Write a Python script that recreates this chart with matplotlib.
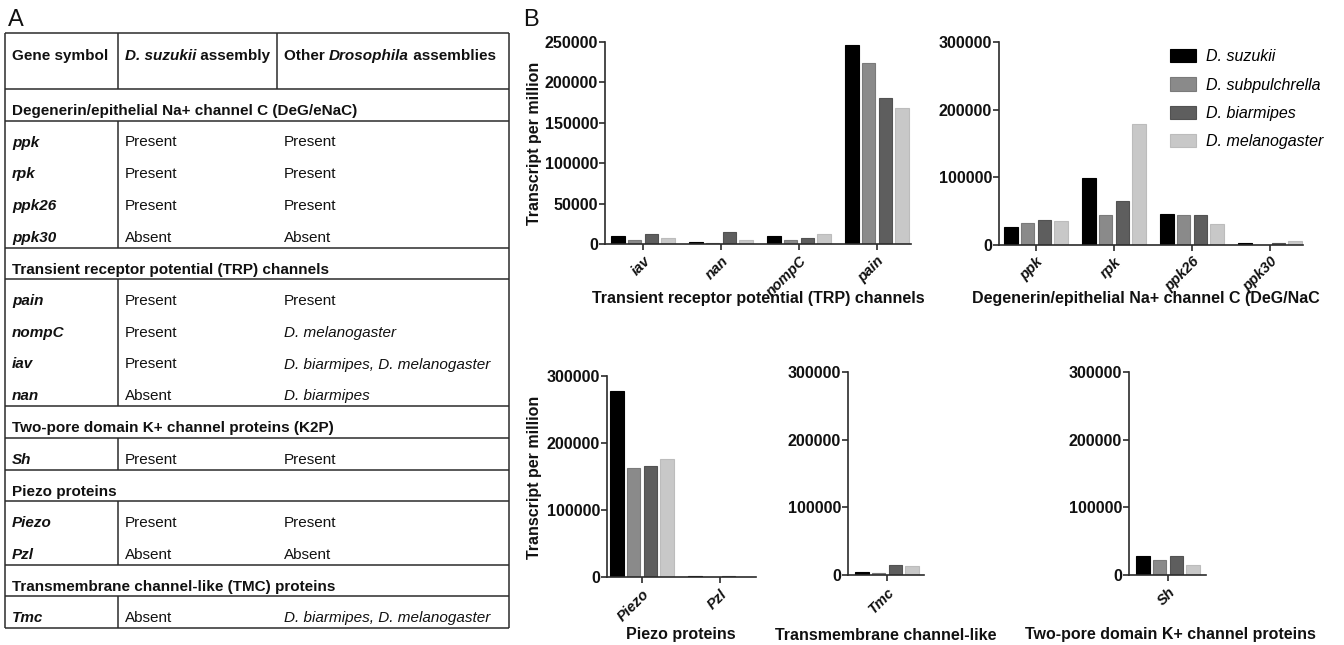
import matplotlib
matplotlib.use("Agg")
import matplotlib.pyplot as plt
import numpy as np
from matplotlib.patches import Patch

plt.rcParams['font.family'] = ['Liberation Sans', 'DejaVu Sans']

# ---------------- data ----------------
species = ["D. suzukii", "D. subpulchrella", "D. biarmipes", "D. melanogaster"]
colors = ["#000000", "#8a8a8a", "#5e5e5e", "#c8c8c8"]
edge_colors = ["#000000", "#7a7a7a", "#525252", "#bcbcbc"]

# Table (panel A)
table_sections = [
    "Degenerin/epithelial Na+ channel C (DeG/eNaC)",
    "Transient receptor potential (TRP) channels",
    "Two-pore domain K+ channel proteins (K2P)",
    "Piezo proteins",
    "Transmembrane channel-like (TMC) proteins",
]
table_genes = [
    ["ppk", "rpk", "ppk26", "ppk30"],
    ["pain", "nompC", "iav", "nan"],
    ["Sh"],
    ["Piezo", "Pzl"],
    ["Tmc"],
]
suzukii_status = [
    ["Present", "Present", "Present", "Absent"],
    ["Present", "Present", "Present", "Absent"],
    ["Present"],
    ["Present", "Absent"],
    ["Absent"],
]
other_status = [
    ["Present", "Present", "Present", "Absent"],
    ["Present", "D. melanogaster", "D. biarmipes, D. melanogaster", "D. biarmipes"],
    ["Present"],
    ["Present", "Absent"],
    ["D. biarmipes, D. melanogaster"],
]

# Bar charts (panel B): one list per species, in the order of `species`
trp_genes = ["iav", "nan", "nompC", "pain"]
trp_suzukii = [9500, 2000, 9500, 246500]
trp_subpulchrella = [5300, 1600, 4900, 224400]
trp_biarmipes = [12700, 15200, 7000, 181300]
trp_melanogaster = [7400, 4500, 12700, 168500]

deg_genes = ["ppk", "rpk", "ppk26", "ppk30"]
deg_suzukii = [27000, 99500, 45400, 3000]
deg_subpulchrella = [32500, 44500, 44400, 500]
deg_biarmipes = [37500, 65500, 44400, 2500]
deg_melanogaster = [36000, 179500, 31000, 6000]

piezo_genes = ["Piezo", "Pzl"]
piezo_suzukii = [278000, 2000]
piezo_subpulchrella = [162000, 300]
piezo_biarmipes = [166000, 1200]
piezo_melanogaster = [176000, 300]

tmc_genes = ["Tmc"]
tmc_suzukii = [3900]
tmc_subpulchrella = [2500]
tmc_biarmipes = [14300]
tmc_melanogaster = [13300]

k2p_genes = ["Sh"]
k2p_suzukii = [28600]
k2p_subpulchrella = [22700]
k2p_biarmipes = [28600]
k2p_melanogaster = [14800]

# ---------------- figure ----------------
W, H = 1344, 645
fig = plt.figure(figsize=(W / 100, H / 100), dpi=100)
renderer = fig.canvas.get_renderer()

LINE_C = "#2b2b2b"
TXT_C = "#111111"

# ---- Panel A : table ----
tax = fig.add_axes([0, 0, 1, 1])
tax.set_xlim(0, W)
tax.set_ylim(H, 0)
tax.axis("off")

FS_T = 11
X_L, X_R, X_C2, X_C3 = 5, 509, 118, 277
TX1, TX2, TX3 = 12, 125, 284


def hline(y):
    tax.plot([X_L, X_R], [y, y], color=LINE_C, lw=1.1, solid_capstyle="butt")


def vline(x, y0, y1):
    tax.plot([x, x], [y0, y1], color=LINE_C, lw=1.1, solid_capstyle="butt")


def runs(x, y, parts, size=FS_T):
    for txt, style, weight in parts:
        t = tax.text(x, y, txt, fontsize=size, fontstyle=style, fontweight=weight,
                     va="center", ha="left", color=TXT_C)
        bb = t.get_window_extent(renderer)
        x = tax.transData.inverted().transform((bb.x1, bb.y0))[0]


def status_text(x, y, s):
    style = "italic" if s.startswith("D.") else "normal"
    tax.text(x, y, s, fontsize=FS_T, fontstyle=style, va="center", ha="left", color=TXT_C)


fig.text(8 / W, 1 - 20 / H, "A", fontsize=17, va="center", ha="left", color=TXT_C)

y_top, y_head = 33, 89
hline(y_top)
hline(y_head)
vline(X_C2, y_top, y_head)
vline(X_C3, y_top, y_head)
runs(TX1, 56, [("Gene symbol", "normal", "bold")])
runs(TX2, 56, [("D. suzukii", "italic", "bold"), (" assembly", "normal", "bold")])
runs(TX3, 56, [("Other ", "normal", "bold"), ("Drosophila", "italic", "bold"),
               (" assemblies", "normal", "bold")])

y = y_head
pitch = 31.7
for sec, genes, s1, s2 in zip(table_sections, table_genes, suzukii_status, other_status):
    runs(TX1, y + 22, [(sec, "normal", "bold")])
    y += 31.5
    hline(y)
    y0 = y
    for k, (g, a, b) in enumerate(zip(genes, s1, s2)):
        yy = y0 + 22 + k * pitch
        runs(TX1, yy, [(g, "italic", "bold")])
        status_text(TX2, yy, a)
        status_text(TX3, yy, b)
    y = y0 + 32 + (len(genes) - 1) * pitch
    vline(X_C2, y0, y)
    hline(y)
vline(X_L, y_top, y)
vline(X_R, y_top, y)

# ---- Panel B : bar charts ----
fig.text(523 / W, 1 - 20 / H, "B", fontsize=17, va="center", ha="left", color=TXT_C)

PX_UNIT = 78.0   # pixels per category
BAR_PITCH = 0.214
BAR_W = 0.17
FS_C = 11.5


def bar_panel(x0, x1, ytop, ybot, first_center, genes, series, ymax, yticks):
    ax = fig.add_axes([x0 / W, 1 - ybot / H, (x1 - x0) / W, (ybot - ytop) / H])
    xs = np.arange(len(genes))
    for i, (vals, c, ec) in enumerate(zip(series, colors, edge_colors)):
        ax.bar(xs + (i - 1.5) * BAR_PITCH, vals, width=BAR_W, color=c,
               edgecolor=ec, linewidth=0.8, label=species[i])
    ax.set_xlim((x0 - first_center) / PX_UNIT, (x1 - first_center) / PX_UNIT)
    ax.set_ylim(0, ymax)
    for s in ("top", "right"):
        ax.spines[s].set_visible(False)
    for s in ("left", "bottom"):
        ax.spines[s].set_color(LINE_C)
        ax.spines[s].set_linewidth(1.2)
    ax.set_yticks(yticks)
    ax.set_yticklabels([str(v) for v in yticks], fontsize=FS_C, fontweight="bold", color=TXT_C)
    ax.set_xticks(xs)
    ax.set_xticklabels(genes, fontsize=10.5, fontweight="bold", fontstyle="italic",
                       rotation=45, ha="right", rotation_mode="anchor", color=TXT_C)
    ax.tick_params(axis="both", direction="out", length=4, width=1.2, color=LINE_C)
    ax.tick_params(axis="y", pad=1)
    ax.tick_params(axis="x", pad=3)
    ax.patch.set_alpha(0)
    return ax


bar_panel(605, 911, 42, 244, 643, trp_genes,
          [trp_suzukii, trp_subpulchrella, trp_biarmipes, trp_melanogaster],
          250000, [0, 50000, 100000, 150000, 200000, 250000])
ax_deg = bar_panel(999, 1303, 42, 245, 1036, deg_genes,
                   [deg_suzukii, deg_subpulchrella, deg_biarmipes, deg_melanogaster],
                   300000, [0, 100000, 200000, 300000])
bar_panel(607, 756, 376, 577, 642, piezo_genes,
          [piezo_suzukii, piezo_subpulchrella, piezo_biarmipes, piezo_melanogaster],
          300000, [0, 100000, 200000, 300000])
bar_panel(848, 924, 372, 575, 887, tmc_genes,
          [tmc_suzukii, tmc_subpulchrella, tmc_biarmipes, tmc_melanogaster],
          300000, [0, 100000, 200000, 300000])
bar_panel(1129, 1206, 372, 575, 1168, k2p_genes,
          [k2p_suzukii, k2p_subpulchrella, k2p_biarmipes, k2p_melanogaster],
          300000, [0, 100000, 200000, 300000])

handles = [Patch(facecolor=c, edgecolor=ec, linewidth=0.8, label=s)
           for s, c, ec in zip(species, colors, edge_colors)]
ax_deg.legend(handles=handles, loc="upper left", bbox_to_anchor=(1170 / W, 1 - 49 / H),
              bbox_transform=fig.transFigure, frameon=False, borderpad=0, borderaxespad=0,
              handlelength=1.6, handleheight=0.9, labelspacing=0.83, handletextpad=0.65,
              prop={"style": "italic", "size": FS_C})


def label(xc, yc, s, ha="center", rotation=0):
    fig.text(xc / W, 1 - yc / H, s, fontsize=FS_C, fontweight="bold", ha=ha, va="center",
             rotation=rotation, color=TXT_C)


# y-axis titles
label(535, 143, "Transcript per million", rotation=90)
label(535, 477, "Transcript per million", rotation=90)

# category group titles
label(758, 298, "Transient receptor potential (TRP) channels")
label(972, 298, "Degenerin/epithelial Na+ channel C (DeG/NaC", ha="left")
label(681, 635, "Piezo proteins")
label(886, 635, "Transmembrane channel-like")
label(1170, 635, "Two-pore domain K+ channel proteins")

fig.savefig("out.png", dpi=100, facecolor="white")
